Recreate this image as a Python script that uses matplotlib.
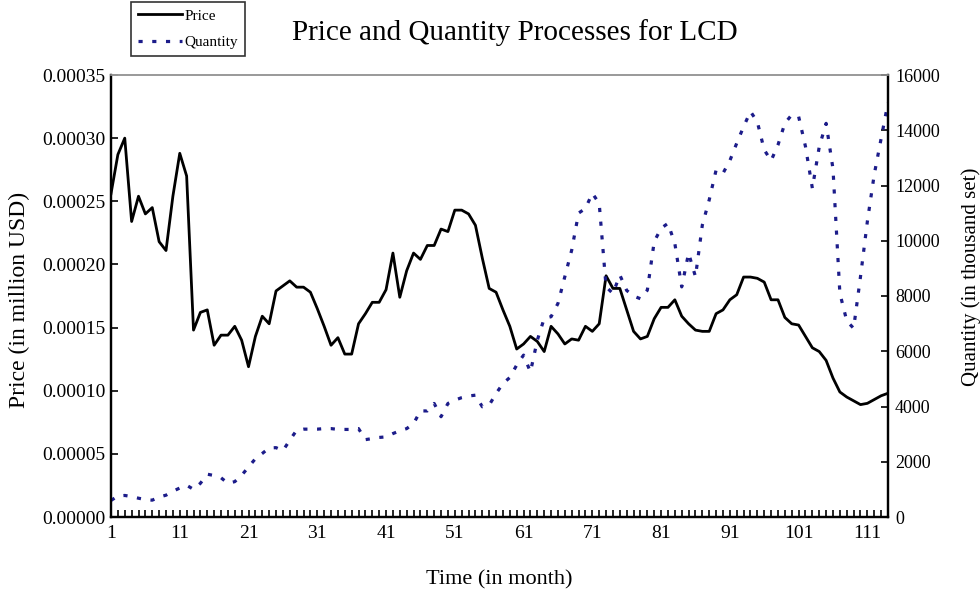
import matplotlib
matplotlib.use("Agg")
import matplotlib.pyplot as plt
from matplotlib.ticker import MultipleLocator, FixedLocator, FuncFormatter
from matplotlib.lines import Line2D

months = list(range(1, 115))

price = [
    0.000256, 0.000287, 0.000300, 0.000234, 0.000254, 0.000240, 0.000245, 0.000218, 0.000211, 0.000254,
    0.000288, 0.000270, 0.000148, 0.000162, 0.000164, 0.000136, 0.000144, 0.000144, 0.000151, 0.000140,
    0.000119, 0.000143, 0.000159, 0.000153, 0.000179, 0.000183, 0.000187, 0.000182, 0.000182, 0.000178,
    0.000165, 0.000151, 0.000136, 0.000142, 0.000129, 0.000129, 0.000153, 0.000161, 0.000170, 0.000170,
    0.000180, 0.000209, 0.000174, 0.000195, 0.000209, 0.000204, 0.000215, 0.000215, 0.000228, 0.000226,
    0.000243, 0.000243, 0.000240, 0.000231, 0.000205, 0.000181, 0.000178, 0.000164, 0.000151, 0.000133,
    0.000137, 0.000143, 0.000139, 0.000131, 0.000151, 0.000145, 0.000137, 0.000141, 0.000140, 0.000151,
    0.000147, 0.000153, 0.000191, 0.000181, 0.000181, 0.000164, 0.000147, 0.000141, 0.000143, 0.000157,
    0.000166, 0.000166, 0.000172, 0.000159, 0.000153, 0.000148, 0.000147, 0.000147, 0.000161, 0.000164,
    0.000172, 0.000176, 0.000190, 0.000190, 0.000189, 0.000186, 0.000172, 0.000172, 0.000158, 0.000153,
    0.000152, 0.000143, 0.000134, 0.000131, 0.000124, 0.000110, 0.000099, 0.000095, 0.000092, 0.000089,
    0.000090, 0.000093, 0.000096, 0.000098,
]

quantity = [
    600, 760, 780, 740, 680, 630, 610, 720, 790, 930,
    1050, 1150, 1000, 1220, 1550, 1500, 1420, 1220, 1280, 1510,
    1810, 2110, 2300, 2500, 2510, 2400, 2780, 3140, 3180, 3180,
    3180, 3200, 3200, 3170, 3170, 3170, 3200, 2800, 2840, 2880,
    2900, 3020, 3120, 3200, 3380, 3840, 3840, 4110, 3630, 4110,
    4230, 4320, 4380, 4410, 3990, 4050, 4470, 4830, 5050, 5500,
    5860, 5250, 6400, 7190, 7250, 7730, 8700, 9660, 11000, 11170,
    11720, 11350, 8330, 8090, 8760, 8200, 8000, 7900, 8210, 9970,
    10450, 10630, 9900, 8330, 9550, 8700, 10570, 11480, 12560, 12440,
    12900, 13530, 14130, 14680, 14300, 13290, 12900, 13470, 14250, 14560,
    14500, 13410, 11900, 13400, 14250, 12600, 8100, 7100, 6830, 8700,
    10700, 12400, 13700, 15000,
]

x_tick_labels = [str(m) for m in range(1, 112, 10)]
price_ticks = [0.0, 0.00005, 0.0001, 0.00015, 0.0002, 0.00025, 0.0003, 0.00035]
qty_ticks = [0, 2000, 4000, 6000, 8000, 10000, 12000, 14000, 16000]

plt.rcParams['font.family'] = ['Liberation Serif', 'DejaVu Serif']

fig = plt.figure(figsize=(9.8, 5.92), dpi=100)
ax = fig.add_axes([111/980, 1-517/592, (888-111)/980, (517-75)/592])
ax2 = ax.twinx()

navy = '#1c1c8a'
qstyle = (0, (1.3, 3.0))
ax.plot(months, price, color='black', lw=2.0, zorder=3)
ax2.plot(months, quantity, color=navy, lw=2.3, linestyle=qstyle, zorder=2)

ax.set_xlim(1, 114)
ax.set_ylim(0, 0.00035)
ax2.set_ylim(0, 16000)

ax.xaxis.set_major_locator(FixedLocator(list(range(1, 112, 10))))
ax.set_xticklabels(x_tick_labels)
ax.xaxis.set_minor_locator(MultipleLocator(1))
ax.set_yticks(price_ticks)
ax.yaxis.set_major_formatter(FuncFormatter(lambda v, p: f"{v:.5f}"))
ax2.set_yticks(qty_ticks)
ax2.set_yticklabels([str(v) for v in qty_ticks])

ax.tick_params(axis='x', which='both', direction='in', length=5, width=1.2, labelsize=14, pad=6)
ax.tick_params(axis='y', which='both', direction='in', length=5, width=1.2, labelsize=14, pad=4)
ax2.tick_params(axis='y', which='both', direction='in', length=5, width=1.2, labelsize=13, pad=5)

for a in (ax, ax2):
    for s in ('left', 'bottom', 'right'):
        a.spines[s].set_linewidth(1.6)
        a.spines[s].set_color('black')
    a.spines['top'].set_color('#999999')
    a.spines['top'].set_linewidth(1.2)

ax.set_xlabel('Time (in month)', fontsize=16, labelpad=20)
ax.set_ylabel('Price (in million USD)', fontsize=17)
ax.yaxis.set_label_coords(-81/777, (517-300)/442)
ax2.set_ylabel('Quantity (in thousand set)', fontsize=15, rotation=90)
ax2.yaxis.set_label_coords((961-111)/777, (517-277)/442)

fig.text(515/980, 1-33/592, 'Price and Quantity Processes for LCD', fontsize=21,
         ha='center', va='center')

handles = [Line2D([], [], color='black', lw=2.0),
           Line2D([], [], color=navy, lw=2.3, linestyle=qstyle)]
leg = fig.legend(handles, ['Price', 'Quantity'], loc='upper left',
                 bbox_to_anchor=(131/980, 1-2/592), fontsize=11, frameon=True,
                 fancybox=False, edgecolor='black', handlelength=2.9, handletextpad=0.15,
                 borderpad=0.45, labelspacing=0.85, borderaxespad=0)
leg.get_frame().set_linewidth(1.2)

fig.savefig('out.png', dpi=100)
